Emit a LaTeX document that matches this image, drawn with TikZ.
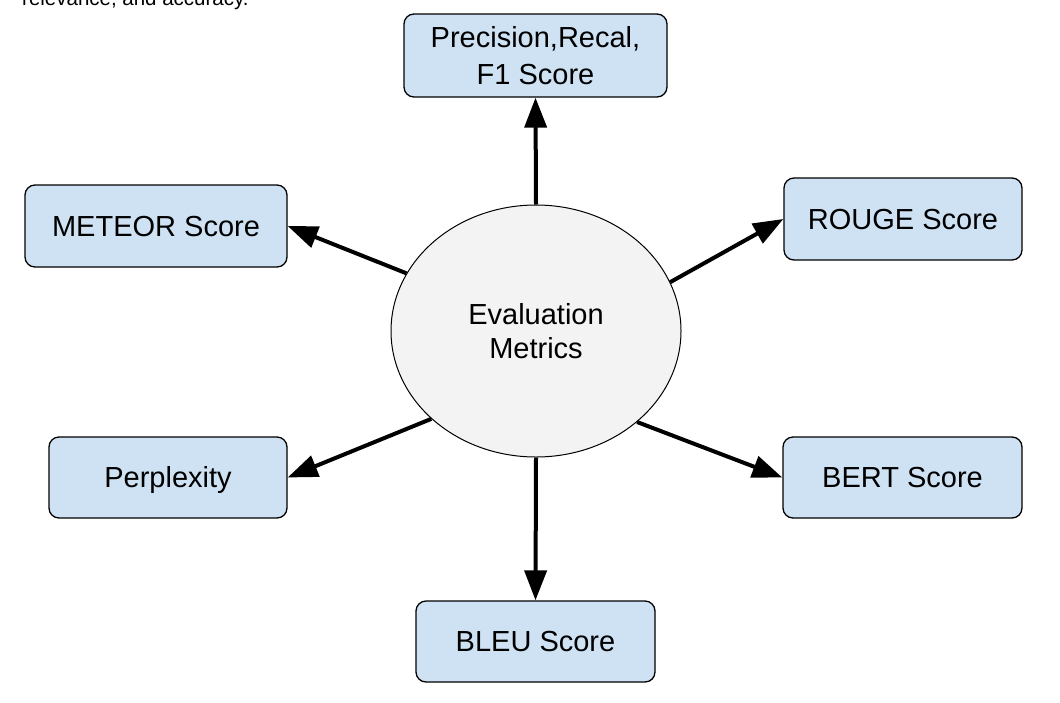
\documentclass[tikz,border=0pt]{standalone}
\usepackage{fontspec}
\setmainfont{Liberation Sans}
\usetikzlibrary{arrows.meta,shapes.geometric}
\definecolor{boxblue}{HTML}{CFE2F3}
\definecolor{ellgray}{HTML}{F3F3F3}
\begin{document}
\begin{tikzpicture}[x=1pt,y=-1pt,
  metric/.style={draw=black,line width=1.3pt,fill=boxblue,rounded corners=10pt,
    inner sep=0pt,align=center,font=\fontsize{29}{36.5}\selectfont},
  single/.style={text height=20.8pt,text depth=0pt},
  hub/.style={ellipse,draw=black,line width=1pt,fill=ellgray,inner sep=0pt,
    minimum width=290pt,minimum height=252pt,align=center,
    font=\fontsize{29}{34.5}\selectfont},
  link/.style={line width=4pt,-{Triangle[length=30pt,width=22pt]}},
  note/.style={inner sep=0pt,anchor=base west,font=\fontsize{20.5}{24}\selectfont}]
\useasboundingbox (0,0) rectangle (1060,702);
\node[note] (cut) at (22,5) {relevance, and accuracy.};
\node[hub] (em) at (536,331) {Evaluation\\Metrics};
\node[metric,minimum width=263pt,minimum height=83pt] (prf) at (535.5,55.5) {Precision,Recal,\\F1 Score};
\node[metric,single,minimum width=262pt,minimum height=82pt] (met) at (156,226) {METEOR Score};
\node[metric,single,minimum width=238pt,minimum height=82pt] (rou) at (903,219) {ROUGE Score};
\node[metric,single,minimum width=238pt,minimum height=81pt] (per) at (168,477.5) {Perplexity};
\node[metric,single,minimum width=239pt,minimum height=81pt] (ber) at (902.5,477.5) {BERT Score};
\node[metric,single,minimum width=239pt,minimum height=81pt] (ble) at (535.5,641.5) {BLEU Score};
\draw[link] (em.north) -- (prf.south);
\draw[link] (em.156.5) -- (met.east);
\draw[link] (em.20.9) -- (rou.west);
\draw[link] (em.220.8) -- (per.east);
\draw[link] (em.318.9) -- (ber.west);
\draw[link] (em.south) -- (ble.north);
\end{tikzpicture}
\end{document}
